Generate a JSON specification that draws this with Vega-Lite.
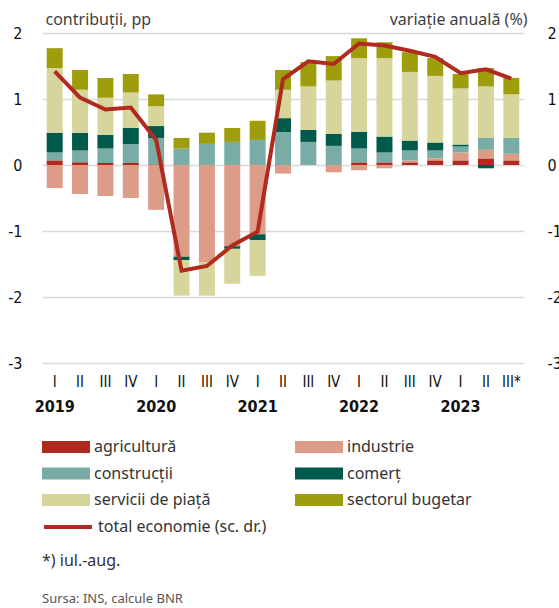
{
  "$schema": "https://vega.github.io/schema/vega-lite/v6.json",
  "width": 482,
  "height": 330,
  "autosize": {"type": "none"},
  "padding": {"left": 42, "top": 33, "right": 35, "bottom": 245},
  "background": "white",
  "config": {"view": {"stroke": null}, "font": "Noto Sans"},
  "datasets": {
    "bars": [
      {"q": "2019-I", "s": "agricultură", "k": 1, "v": 0.07},
      {"q": "2019-I", "s": "industrie", "k": 2, "v": -0.35},
      {"q": "2019-I", "s": "construcții", "k": 3, "v": 0.12},
      {"q": "2019-I", "s": "comerț", "k": 4, "v": 0.30},
      {"q": "2019-I", "s": "servicii de piață", "k": 5, "v": 0.98},
      {"q": "2019-I", "s": "sectorul bugetar", "k": 6, "v": 0.30},
      {"q": "2019-II", "s": "agricultură", "k": 1, "v": 0.04},
      {"q": "2019-II", "s": "industrie", "k": 2, "v": -0.44},
      {"q": "2019-II", "s": "construcții", "k": 3, "v": 0.18},
      {"q": "2019-II", "s": "comerț", "k": 4, "v": 0.27},
      {"q": "2019-II", "s": "servicii de piață", "k": 5, "v": 0.65},
      {"q": "2019-II", "s": "sectorul bugetar", "k": 6, "v": 0.30},
      {"q": "2019-III", "s": "agricultură", "k": 1, "v": 0.03},
      {"q": "2019-III", "s": "industrie", "k": 2, "v": -0.47},
      {"q": "2019-III", "s": "construcții", "k": 3, "v": 0.22},
      {"q": "2019-III", "s": "comerț", "k": 4, "v": 0.21},
      {"q": "2019-III", "s": "servicii de piață", "k": 5, "v": 0.56},
      {"q": "2019-III", "s": "sectorul bugetar", "k": 6, "v": 0.30},
      {"q": "2019-IV", "s": "agricultură", "k": 1, "v": 0.03},
      {"q": "2019-IV", "s": "industrie", "k": 2, "v": -0.50},
      {"q": "2019-IV", "s": "construcții", "k": 3, "v": 0.29},
      {"q": "2019-IV", "s": "comerț", "k": 4, "v": 0.24},
      {"q": "2019-IV", "s": "servicii de piață", "k": 5, "v": 0.54},
      {"q": "2019-IV", "s": "sectorul bugetar", "k": 6, "v": 0.28},
      {"q": "2020-I", "s": "agricultură", "k": 1, "v": 0.01},
      {"q": "2020-I", "s": "industrie", "k": 2, "v": -0.68},
      {"q": "2020-I", "s": "construcții", "k": 3, "v": 0.40},
      {"q": "2020-I", "s": "comerț", "k": 4, "v": 0.18},
      {"q": "2020-I", "s": "servicii de piață", "k": 5, "v": 0.30},
      {"q": "2020-I", "s": "sectorul bugetar", "k": 6, "v": 0.18},
      {"q": "2020-II", "s": "industrie", "k": 2, "v": -1.39},
      {"q": "2020-II", "s": "construcții", "k": 3, "v": 0.25},
      {"q": "2020-II", "s": "comerț", "k": 4, "v": -0.05},
      {"q": "2020-II", "s": "servicii de piață", "k": 5, "v": -0.54},
      {"q": "2020-II", "s": "sectorul bugetar", "k": 6, "v": 0.16},
      {"q": "2020-III", "s": "industrie", "k": 2, "v": -1.47},
      {"q": "2020-III", "s": "construcții", "k": 3, "v": 0.32},
      {"q": "2020-III", "s": "servicii de piață", "k": 5, "v": -0.51},
      {"q": "2020-III", "s": "sectorul bugetar", "k": 6, "v": 0.17},
      {"q": "2020-IV", "s": "industrie", "k": 2, "v": -1.23},
      {"q": "2020-IV", "s": "construcții", "k": 3, "v": 0.35},
      {"q": "2020-IV", "s": "comerț", "k": 4, "v": -0.04},
      {"q": "2020-IV", "s": "servicii de piață", "k": 5, "v": -0.53},
      {"q": "2020-IV", "s": "sectorul bugetar", "k": 6, "v": 0.21},
      {"q": "2021-I", "s": "industrie", "k": 2, "v": -1.05},
      {"q": "2021-I", "s": "construcții", "k": 3, "v": 0.38},
      {"q": "2021-I", "s": "comerț", "k": 4, "v": -0.09},
      {"q": "2021-I", "s": "servicii de piață", "k": 5, "v": -0.54},
      {"q": "2021-I", "s": "sectorul bugetar", "k": 6, "v": 0.29},
      {"q": "2021-II", "s": "industrie", "k": 2, "v": -0.13},
      {"q": "2021-II", "s": "construcții", "k": 3, "v": 0.50},
      {"q": "2021-II", "s": "comerț", "k": 4, "v": 0.21},
      {"q": "2021-II", "s": "servicii de piață", "k": 5, "v": 0.43},
      {"q": "2021-II", "s": "sectorul bugetar", "k": 6, "v": 0.30},
      {"q": "2021-III", "s": "construcții", "k": 3, "v": 0.35},
      {"q": "2021-III", "s": "comerț", "k": 4, "v": 0.18},
      {"q": "2021-III", "s": "servicii de piață", "k": 5, "v": 0.66},
      {"q": "2021-III", "s": "sectorul bugetar", "k": 6, "v": 0.37},
      {"q": "2021-IV", "s": "industrie", "k": 2, "v": -0.11},
      {"q": "2021-IV", "s": "construcții", "k": 3, "v": 0.29},
      {"q": "2021-IV", "s": "comerț", "k": 4, "v": 0.18},
      {"q": "2021-IV", "s": "servicii de piață", "k": 5, "v": 0.81},
      {"q": "2021-IV", "s": "sectorul bugetar", "k": 6, "v": 0.37},
      {"q": "2022-I", "s": "agricultură", "k": 1, "v": 0.04},
      {"q": "2022-I", "s": "industrie", "k": 2, "v": -0.08},
      {"q": "2022-I", "s": "construcții", "k": 3, "v": 0.21},
      {"q": "2022-I", "s": "comerț", "k": 4, "v": 0.25},
      {"q": "2022-I", "s": "servicii de piață", "k": 5, "v": 1.12},
      {"q": "2022-I", "s": "sectorul bugetar", "k": 6, "v": 0.30},
      {"q": "2022-II", "s": "agricultură", "k": 1, "v": 0.04},
      {"q": "2022-II", "s": "industrie", "k": 2, "v": -0.05},
      {"q": "2022-II", "s": "construcții", "k": 3, "v": 0.15},
      {"q": "2022-II", "s": "comerț", "k": 4, "v": 0.24},
      {"q": "2022-II", "s": "servicii de piață", "k": 5, "v": 1.19},
      {"q": "2022-II", "s": "sectorul bugetar", "k": 6, "v": 0.24},
      {"q": "2022-III", "s": "agricultură", "k": 1, "v": 0.04},
      {"q": "2022-III", "s": "industrie", "k": 2, "v": 0.03},
      {"q": "2022-III", "s": "construcții", "k": 3, "v": 0.15},
      {"q": "2022-III", "s": "comerț", "k": 4, "v": 0.15},
      {"q": "2022-III", "s": "servicii de piață", "k": 5, "v": 1.04},
      {"q": "2022-III", "s": "sectorul bugetar", "k": 6, "v": 0.30},
      {"q": "2022-IV", "s": "agricultură", "k": 1, "v": 0.07},
      {"q": "2022-IV", "s": "industrie", "k": 2, "v": 0.03},
      {"q": "2022-IV", "s": "construcții", "k": 3, "v": 0.12},
      {"q": "2022-IV", "s": "comerț", "k": 4, "v": 0.12},
      {"q": "2022-IV", "s": "servicii de piață", "k": 5, "v": 1.01},
      {"q": "2022-IV", "s": "sectorul bugetar", "k": 6, "v": 0.27},
      {"q": "2023-I", "s": "agricultură", "k": 1, "v": 0.07},
      {"q": "2023-I", "s": "industrie", "k": 2, "v": 0.12},
      {"q": "2023-I", "s": "construcții", "k": 3, "v": 0.09},
      {"q": "2023-I", "s": "comerț", "k": 4, "v": 0.03},
      {"q": "2023-I", "s": "servicii de piață", "k": 5, "v": 0.85},
      {"q": "2023-I", "s": "sectorul bugetar", "k": 6, "v": 0.22},
      {"q": "2023-II", "s": "agricultură", "k": 1, "v": 0.10},
      {"q": "2023-II", "s": "industrie", "k": 2, "v": 0.13},
      {"q": "2023-II", "s": "construcții", "k": 3, "v": 0.18},
      {"q": "2023-II", "s": "comerț", "k": 4, "v": -0.05},
      {"q": "2023-II", "s": "servicii de piață", "k": 5, "v": 0.78},
      {"q": "2023-II", "s": "sectorul bugetar", "k": 6, "v": 0.28},
      {"q": "2023-III*", "s": "agricultură", "k": 1, "v": 0.07},
      {"q": "2023-III*", "s": "industrie", "k": 2, "v": 0.10},
      {"q": "2023-III*", "s": "construcții", "k": 3, "v": 0.24},
      {"q": "2023-III*", "s": "servicii de piață", "k": 5, "v": 0.66},
      {"q": "2023-III*", "s": "sectorul bugetar", "k": 6, "v": 0.25}
    ],
    "total": [
      {"q": "2019-I", "t": 1.42},
      {"q": "2019-II", "t": 1.02},
      {"q": "2019-III", "t": 0.84},
      {"q": "2019-IV", "t": 0.87},
      {"q": "2020-I", "t": 0.38},
      {"q": "2020-II", "t": -1.60},
      {"q": "2020-III", "t": -1.53},
      {"q": "2020-IV", "t": -1.22},
      {"q": "2021-I", "t": -1.01},
      {"q": "2021-II", "t": 1.30},
      {"q": "2021-III", "t": 1.57},
      {"q": "2021-IV", "t": 1.53},
      {"q": "2022-I", "t": 1.84},
      {"q": "2022-II", "t": 1.81},
      {"q": "2022-III", "t": 1.73},
      {"q": "2022-IV", "t": 1.64},
      {"q": "2023-I", "t": 1.39},
      {"q": "2023-II", "t": 1.45},
      {"q": "2023-III*", "t": 1.31}
    ]
  },
  "title": {
    "text": "*) iul.-aug.",
    "subtitle": "Sursa: INS, calcule BNR",
    "orient": "bottom",
    "anchor": "start",
    "frame": "group",
    "offset": 18,
    "font": "Noto Sans",
    "fontSize": 16,
    "fontWeight": "normal",
    "color": "#333333",
    "subtitleFont": "Noto Sans",
    "subtitleFontSize": 13,
    "subtitleColor": "#555555",
    "subtitlePadding": 24
  },
  "layer": [
    {
      "data": {"name": "bars"},
      "mark": {"type": "bar"},
      "encoding": {
        "x": {
          "field": "q", "type": "nominal", "sort": null,
          "scale": {"paddingInner": 0.37, "paddingOuter": 0.185},
          "axis": {
            "title": null, "domain": false, "ticks": false, "labelAngle": 0,
            "labelExpr": "split(datum.value, '-')[1]",
            "labelFont": "DejaVu Sans Condensed, Roboto, sans-serif", "labelFontSize": 15,
            "labelColor": "#111111", "labelPadding": 11
          }
        },
        "y": {
          "field": "v", "type": "quantitative", "stack": "zero",
          "scale": {"domain": [-3, 2], "nice": false, "zero": false},
          "axis": {
            "values": [-3, -2, -1, 0, 1, 2],
            "labelExpr": "'' + datum.value",
            "domain": false, "ticks": false,
            "gridColor": "#d9d9d9", "gridWidth": 1.5,
            "labelFont": "DejaVu Sans Condensed, Roboto, sans-serif", "labelFontSize": 16,
            "labelColor": "#111111", "labelPadding": 20,
            "title": "contribuții, pp", "titleAngle": 0, "titleAlign": "left",
            "titleBaseline": "alphabetic", "titleX": 3, "titleY": -9,
            "titleFont": "Noto Sans", "titleFontSize": 16, "titleFontWeight": "normal",
            "titleColor": "#404040"
          }
        },
        "color": {
          "field": "s", "type": "nominal",
          "scale": {
            "domain": ["agricultură", "construcții", "servicii de piață", "industrie", "comerț", "sectorul bugetar"],
            "range": ["#ae2a1f", "#7aaca6", "#d6d69c", "#dc9c88", "#005a4b", "#9e9e0c"]
          },
          "legend": {
            "orient": "none", "legendX": 12, "legendY": 402,
            "title": null, "columns": 2, "padding": 0,
            "symbolType": "M-2,-0.5H2V0.5H-2Z", "symbolSize": 576,
            "symbolStrokeWidth": 0, "symbolOpacity": 1,
            "labelFont": "Noto Sans", "labelFontSize": 16, "labelColor": "#333333",
            "labelOffset": 16, "rowPadding": 6.5, "columnPadding": 84
          }
        },
        "order": {"field": "k", "type": "quantitative"}
      }
    },
    {
      "data": {"name": "total"},
      "mark": {"type": "line", "strokeWidth": 4, "strokeJoin": "miter"},
      "encoding": {
        "x": {
          "field": "q", "type": "nominal", "sort": null,
          "axis": {
            "orient": "bottom",
            "title": null, "domain": false, "ticks": false, "labelAngle": 0,
            "offset": 24,
            "labelExpr": "split(datum.value, '-')[1] == 'I' ? split(datum.value, '-')[0] : ''",
            "labelFont": "DejaVu Sans Condensed, Roboto, sans-serif", "labelFontSize": 16, "labelFontWeight": "bold",
            "labelColor": "#111111", "labelPadding": 11
          }
        },
        "y": {
          "field": "t", "type": "quantitative",
          "scale": {"domain": [-3, 2], "nice": false, "zero": false},
          "axis": {
            "orient": "right",
            "values": [-3, -2, -1, 0, 1, 2],
            "labelExpr": "'' + datum.value",
            "domain": false, "ticks": false, "grid": false,
            "labelFont": "DejaVu Sans Condensed, Roboto, sans-serif", "labelFontSize": 16,
            "labelColor": "#111111", "labelPadding": 23,
            "title": "variație anuală (%)", "titleAngle": 0, "titleAlign": "right",
            "titleBaseline": "alphabetic", "titleX": 3, "titleY": -9,
            "titleFont": "Noto Sans", "titleFontSize": 16, "titleFontWeight": "normal",
            "titleColor": "#404040"
          }
        },
        "stroke": {
          "datum": "total economie (sc. dr.)", "type": "nominal",
          "scale": {"range": ["#b02a1f"]},
          "legend": {
            "orient": "none", "legendX": 12, "legendY": 480,
            "title": null, "padding": 0,
            "symbolType": "M-2,0H2", "symbolSize": 576, "symbolStrokeWidth": 4,
            "labelFont": "Noto Sans", "labelFontSize": 16, "labelColor": "#333333",
            "labelOffset": 16, "labelLimit": 300
          }
        }
      }
    }
  ],
  "resolve": {"scale": {"y": "independent", "stroke": "independent", "color": "independent"}, "axis": {"x": "independent"}}
}
